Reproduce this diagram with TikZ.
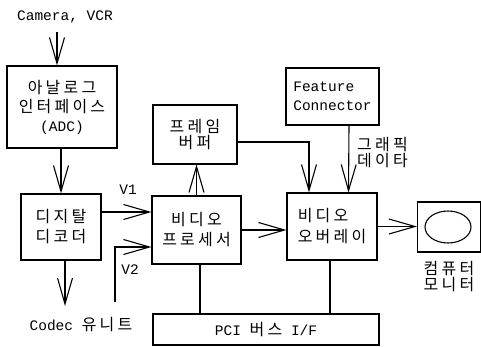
\documentclass[tikz,border=0pt]{standalone}
\usepackage{fontspec}
\setmainfont{Liberation Mono}
\newfontfamily\krfont[LetterSpace=20]{Noto Sans CJK KR}
\newcommand\kor[1]{{\krfont\fontsize{16}{19}\selectfont #1}}
\usetikzlibrary{arrows.meta,shapes.geometric}
\begin{document}
\begin{tikzpicture}[x=1pt,y=-1pt,
  box/.style={draw, line width=1.1pt, inner sep=0pt, align=center,
    font=\fontsize{14.5}{19}\selectfont},
  lbl/.style={inner sep=0pt, align=center, font=\fontsize{14.5}{19}\selectfont},
  arr/.style={line width=1.1pt, -{Straight Barb[length=26pt,width=15pt]}},
  conn/.style={line width=1.1pt}]
\useasboundingbox (0,0) rectangle (481,347);

% boxes
\node[box, minimum width=110pt, minimum height=82pt] (ana) at (62,107)
  {\kor{아날로그}\\\kor{인터페이스}\\(ADC)};
\node[box, minimum width=80pt, minimum height=66pt] (dec) at (61,227)
  {\kor{디지탈}\\[1pt]\kor{디코더}};
\node[box, minimum width=84pt, minimum height=59pt] (fb) at (195,134.5)
  {\kor{프레임}\\[-3pt]\kor{버퍼}};
\node[box, minimum width=89pt, minimum height=68pt] (vp) at (196.5,230)
  {\kor{비디오}\\[1pt]\kor{프로세서}};
\node[box, minimum width=93pt, minimum height=57pt, align=left] (fc) at (332.5,96.5)
  {Feature\\Connector};
\node[box, minimum width=90pt, minimum height=67pt, align=left] (ov) at (332,226.5)
  {\kor{비디오}\\[2pt]\kor{오버레이}};
\node[box, minimum width=63pt, minimum height=50pt] (mon) at (449,227) {};
\node[draw, ellipse, line width=1.1pt, minimum width=46pt, minimum height=32pt, inner sep=0pt] (scr) at (448,227) {};
\node[box, minimum width=226pt, minimum height=31pt] (pci) at (266,329.5)
  {PCI \kor{버스} I/F};

% labels
\node[lbl] (cam) at (65,17) {Camera, VCR};
\node[lbl] (codec) at (81,325) {Codec \kor{유니트}};
\node[lbl] (v1) at (128,190) {V1};
\node[lbl] (v2) at (130,270) {V2};
\node[lbl, anchor=west, align=left] (gd) at (357,153) {\kor{그래픽}\\[-3pt]\kor{데이타}};
\node[lbl] (monl) at (449,277) {\kor{컴퓨터}\\[-3pt]\kor{모니터}};

% free ends
\coordinate (camS) at (57,32);
\coordinate (cdE) at (65,306);
\coordinate (v2S) at (115,302);

% connectors
\draw[arr] (camS) -- (camS |- ana.north);
\draw[arr] (ana.south -| dec.north) -- (dec.north);
\draw[arr] (cdE |- dec.south) -- (cdE);
\draw[arr] ([yshift=15pt]dec.east) coordinate (v1s) -- (v1s -| vp.west);
\draw[arr] (v2S) |- ([yshift=-17pt]vp.west);
\draw[arr] (vp.north) -- (vp.north |- fb.south);
\draw[arr] ([yshift=-7.5pt]fb.east) -| ([xshift=-23pt]ov.north);
\draw[arr] ([xshift=16.5pt]fc.south) -- ([xshift=16.5pt]ov.north);
\draw[arr] (vp.east) -- (vp.east -| ov.west);
\draw[arr] (ov.east) -- (ov.east -| mon.west);
\draw[conn] (vp.south) ++(3.5,0) coordinate (vpb) -- (vpb |- pci.north);
\draw[conn] (ov.south) ++(-2,0) coordinate (ovb) -- (ovb |- pci.north);
\end{tikzpicture}
\end{document}
